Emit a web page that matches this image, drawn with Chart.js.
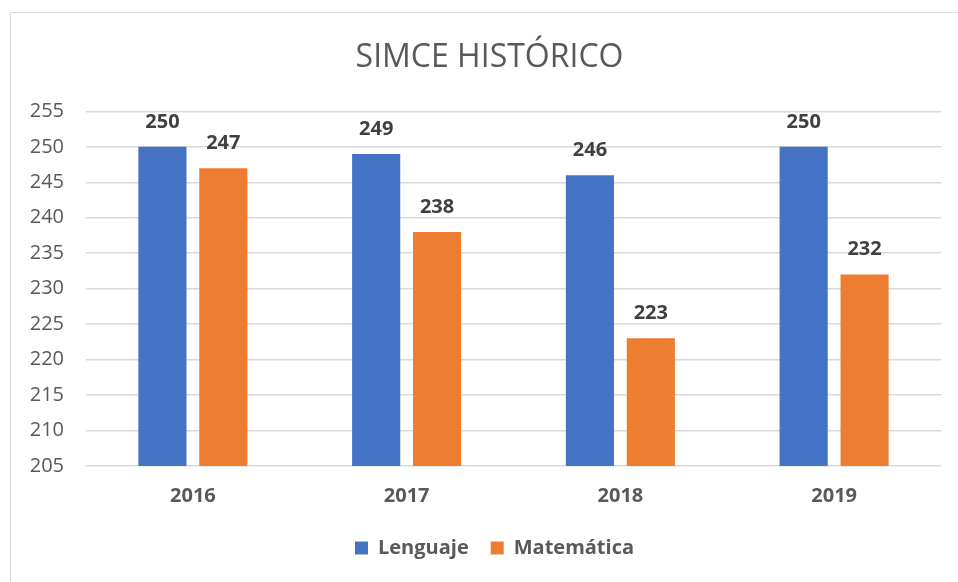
<!DOCTYPE html>
<html>
<head>
<meta charset="utf-8">
<script src="https://cdn.jsdelivr.net/npm/chart.js@4"></script>
<style>
  html, body { margin: 0; padding: 0; background: #fff; }
  #wrap { position: relative; width: 958px; height: 582px; overflow: hidden; }
  #frame { position: absolute; left: 10px; top: 12px; width: 980px; height: 600px; border: 1px solid #d9d9d9; box-sizing: border-box; }
  canvas { position: absolute; left: 0; top: 0; }
</style>
</head>
<body>
<div id="wrap">
  <div id="frame"></div>
  <canvas id="simceChart" width="958" height="582"></canvas>
</div>
<script>
const years = ["2016", "2017", "2018", "2019"]
const lenguaje = [250, 249, 246, 250]
const matematica = [247, 238, 223, 232]
const yMin = 205
const yMax = 255
const yStep = 5

// draw value labels above each bar
const barLabels = {
  id: "barLabels",
  afterDatasetsDraw(chart) {
    const ctx = chart.ctx
    ctx.save()
    ctx.font = "bold 20px 'Open Sans'"
    ctx.fillStyle = "#404040"
    ctx.textAlign = "center"
    ctx.textBaseline = "middle"
    chart.data.datasets.forEach((ds, i) => {
      chart.getDatasetMeta(i).data.forEach((bar, j) => {
        ctx.fillText(ds.data[j], bar.x, bar.y - 25)
      })
    })
    ctx.restore()
  },
}

// title and legend sit centred on the frame, not on the canvas
const shiftBlocks = {
  id: "shiftBlocks",
  afterLayout(chart) {
    if (chart.titleBlock) {
      chart.titleBlock.left += 14
      chart.titleBlock.right += 14
    }
    if (chart.legend) {
      chart.legend.left += 19
      chart.legend.right += 19
      chart.legend.adjustHitBoxes()
    }
  },
}

document.addEventListener("DOMContentLoaded", () => {
  const ctx = document.getElementById("simceChart")
  new Chart(ctx, {
    type: "bar",
    data: {
      labels: years,
      datasets: [
        {
          label: "Lenguaje",
          data: lenguaje,
          backgroundColor: "#4472c4",
          categoryPercentage: 0.57,
          barPercentage: 0.79,
        },
        {
          label: "Matemática",
          data: matematica,
          backgroundColor: "#ed7d31",
          categoryPercentage: 0.57,
          barPercentage: 0.79,
        },
      ],
    },
    options: {
      responsive: false,
      animation: false,
      layout: {
        padding: { left: 10, right: 17, top: 0, bottom: 14 },
      },
      plugins: {
        title: {
          display: true,
          text: "SIMCE HISTÓRICO",
          color: "#595959",
          font: { family: "'Open Sans'", size: 32, weight: "normal" },
          padding: { top: 39, bottom: 34 },
        },
        legend: {
          display: true,
          position: "bottom",
          labels: {
            color: "#595959",
            boxWidth: 13,
            boxHeight: 13,
            padding: 22,
            font: { family: "'Open Sans'", size: 20, weight: "bold" },
          },
        },
        tooltip: { enabled: false },
      },
      scales: {
        y: {
          min: yMin,
          max: yMax,
          afterFit(scale) {
            scale.width = 76
          },
          border: { display: false },
          grid: {
            color: "#d9d9d9",
            lineWidth: 1.5,
            drawTicks: false,
          },
          ticks: {
            stepSize: yStep,
            padding: 22,
            color: "#595959",
            font: { family: "'Open Sans'", size: 20 },
          },
        },
        x: {
          afterFit(scale) {
            scale.height -= 2
          },
          border: { display: false },
          grid: { display: false },
          ticks: {
            padding: 10,
            color: "#595959",
            font: { family: "'Open Sans'", size: 20, weight: "bold" },
          },
        },
      },
    },
    plugins: [barLabels, shiftBlocks],
  })
})
</script>
</body>
</html>
